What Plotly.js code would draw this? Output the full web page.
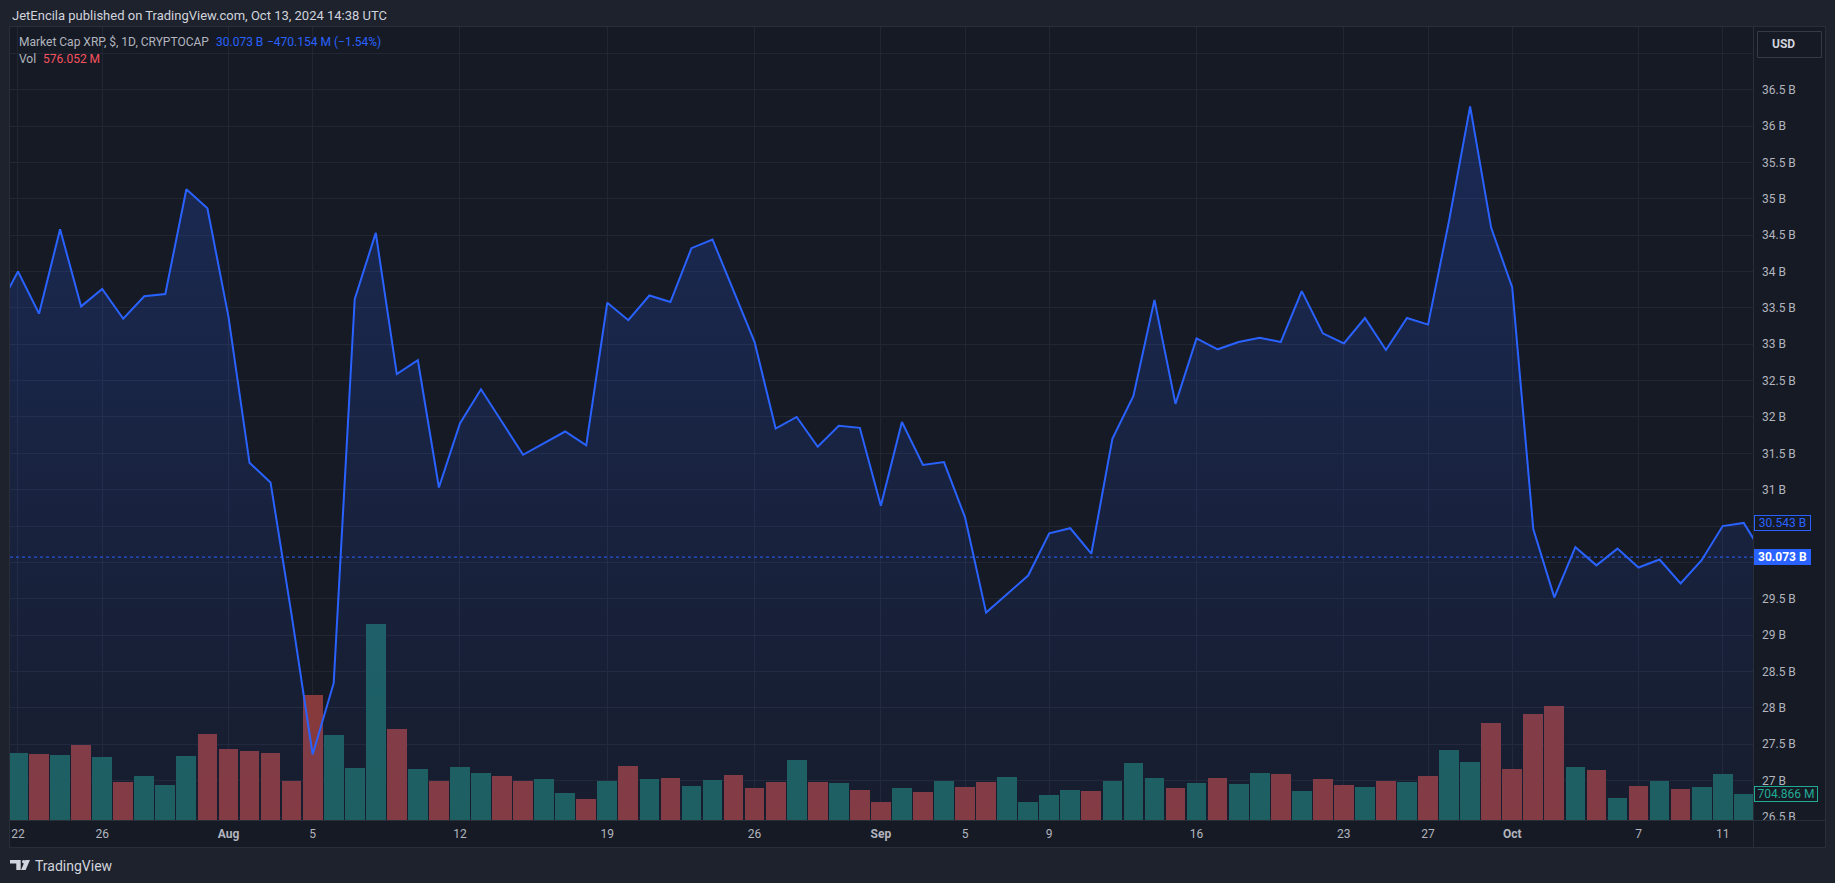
<!DOCTYPE html>
<html><head><meta charset="utf-8">
<script src="https://cdn.plot.ly/plotly-3.0.1.min.js"></script>
<style>html,body{margin:0;padding:0;background:#1e222d;}#chart{width:1835px;height:883px;}</style>
</head><body><div id="chart"></div>
<script>
// ---- data ----
const dates = [
 '2024-07-21','2024-07-22','2024-07-23','2024-07-24','2024-07-25','2024-07-26','2024-07-27','2024-07-28','2024-07-29','2024-07-30','2024-07-31',
 '2024-08-01','2024-08-02','2024-08-03','2024-08-04','2024-08-05','2024-08-06','2024-08-07','2024-08-08','2024-08-09','2024-08-10',
 '2024-08-11','2024-08-12','2024-08-13','2024-08-14','2024-08-15','2024-08-16','2024-08-17','2024-08-18','2024-08-19','2024-08-20',
 '2024-08-21','2024-08-22','2024-08-23','2024-08-24','2024-08-25','2024-08-26','2024-08-27','2024-08-28','2024-08-29','2024-08-30','2024-08-31',
 '2024-09-01','2024-09-02','2024-09-03','2024-09-04','2024-09-05','2024-09-06','2024-09-07','2024-09-08','2024-09-09','2024-09-10',
 '2024-09-11','2024-09-12','2024-09-13','2024-09-14','2024-09-15','2024-09-16','2024-09-17','2024-09-18','2024-09-19','2024-09-20',
 '2024-09-21','2024-09-22','2024-09-23','2024-09-24','2024-09-25','2024-09-26','2024-09-27','2024-09-28','2024-09-29','2024-09-30',
 '2024-10-01','2024-10-02','2024-10-03','2024-10-04','2024-10-05','2024-10-06','2024-10-07','2024-10-08','2024-10-09','2024-10-10',
 '2024-10-11','2024-10-12','2024-10-13'];

// market cap, billions USD
const marketCapB = [
 33.45,34.00,33.42,34.58,33.52,33.76,33.35,33.66,33.69,35.13,34.87,
 33.38,31.37,31.10,29.28,27.36,28.34,33.62,34.53,32.59,32.78,
 31.03,31.91,32.38,31.93,31.48,31.64,31.80,31.61,33.57,33.33,
 33.67,33.58,34.32,34.44,33.73,33.03,31.84,32.00,31.59,31.88,31.85,
 30.78,31.93,31.34,31.38,30.62,29.31,29.56,29.82,30.40,30.47,
 30.12,31.70,32.29,33.61,32.18,33.08,32.93,33.03,33.09,33.03,
 33.73,33.15,33.01,33.36,32.92,33.36,33.27,34.70,36.27,34.60,
 33.78,30.46,29.52,30.21,29.96,30.19,29.93,30.04,29.71,30.03,
 30.50,30.543,30.073];

// volume, millions USD
const volumeM = [
 null,1814,1782,1760,2020,1705,1032,1184,945,1728,2336,
 1912,1858,1814,1053,3400,2303,1412,5320,2466,1391,
 1070,1437,1275,1193,1058,1112,732,570,1058,1464,
 1112,1139,922,1085,1220,868,1031,1627,1031,1003,814,
 488,868,759,1058,895,1031,1166,488,678,814,
 786,1058,1546,1139,868,1003,1139,976,1275,1248,
 786,1112,949,895,1058,1031,1193,1898,1573,2631,
 1383,2875,3092,1437,1356,597,922,1058,841,895,
 1248,704.866,576.052];

const dateTickVals = ['2024-07-22','2024-07-26','2024-08-01','2024-08-05','2024-08-12','2024-08-19','2024-08-26','2024-09-01','2024-09-05','2024-09-09','2024-09-16','2024-09-23','2024-09-27','2024-10-01','2024-10-07','2024-10-11'];
const dateTickText = ['22','26','<b>Aug</b>','5','12','19','26','<b>Sep</b>','5','9','16','23','27','<b>Oct</b>','7','11'];

// labels at 30 B and 30.5 B sit under the price markers, as in the original
const priceTickVals = [26.5,27,27.5,28,28.5,29,29.5,30,30.5,31,31.5,32,32.5,33,33.5,34,34.5,35,35.5,36,36.5,37];
const priceTickText = ['26.5 B','27 B','27.5 B','28 B','28.5 B','29 B','29.5 B','','','31 B','31.5 B','32 B','32.5 B','33 B','33.5 B','34 B','34.5 B','35 B','35.5 B','36 B','36.5 B',''];

const lastPrice = 30.073, prevPrice = 30.543, lastVisibleVol = 704.866;

// ---- styling / layout helpers ----
const UP = '#1d5f5b', DOWN = '#873a3c';
const volColors = volumeM.map((v,i)=> i===0 ? UP : (marketCapB[i] >= marketCapB[i-1] ? UP : DOWN));

const PL=10, PR=1753, PT=27, PB=820;
const px = v => (v-PL)/(PR-PL);
const py = v => (PB-v)/(PB-PT);
const FONT = 'Roboto, "Liberation Sans", sans-serif';
const PANEL = '#161a25', BORDER = '#2a2e39', GRID = '#222633';

const traces = [
 {type:'bar', x:dates, y:volumeM, yaxis:'y', marker:{color:volColors, line:{width:0}}, width:81e6, hoverinfo:'skip'},
 {type:'scatter', mode:'lines', x:dates, y:marketCapB, yaxis:'y2',
  line:{color:'#2962ff', width:2},
  fill:'tozeroy',
  fillgradient:{type:'vertical', start:26.46, stop:36.3,
    colorscale:[[0,'rgba(41,98,255,0.04)'],[1,'rgba(41,98,255,0.22)']]},
  hoverinfo:'skip'}
];

const ann = (x,y,text,opts) => Object.assign({xref:'paper',yref:'paper',x:px(x),y:py(y),text:text,showarrow:false,xanchor:'left',yanchor:'middle',font:{family:FONT,size:12,color:'#b2b5be'}},opts||{});

const annotations = [
 ann(9.5,15,'JetEncila published on TradingView.com, Oct 13, 2024 14:38 UTC',{font:{family:FONT,size:13,color:'#d1d4dc'}}),
 ann(17,42,'Market Cap XRP, $, 1D, CRYPTOCAP',{font:{family:FONT,size:12,color:'#b2b5be'}}),
 ann(214,42,'30.073 B',{font:{family:FONT,size:12,color:'#2962ff'}}),
 ann(265,42,'\u2212470.154 M (\u22121.54%)',{font:{family:FONT,size:12,color:'#2962ff'}}),
 ann(17,59,'Vol',{font:{family:FONT,size:12,color:'#b2b5be'}}),
 ann(41,59,'576.052 M',{font:{family:FONT,size:12,color:'#f7525f'}}),
 ann(1770,44,'<b>USD</b>',{font:{family:FONT,size:12,color:'#d1d4dc'}}),
 ann(33,866,'TradingView',{font:{family:FONT,size:14,color:'#d1d4dc'}}),
 {xref:'paper',yref:'y2',x:1,y:prevPrice,xanchor:'left',yanchor:'middle',xshift:1,showarrow:false,
  text:prevPrice.toFixed(3)+' B',font:{family:FONT,size:12,color:'#2962ff'},
  bgcolor:PANEL,bordercolor:'#2962ff',borderwidth:1,borderpad:0,width:55},
 {xref:'paper',yref:'y2',x:1,y:lastPrice,xanchor:'left',yanchor:'middle',xshift:1,showarrow:false,
  text:'<b>'+lastPrice.toFixed(3)+' B</b>',font:{family:FONT,size:12,color:'#ffffff'},
  bgcolor:'#2962ff',bordercolor:'#2962ff',borderwidth:1,borderpad:0,width:55},
 {xref:'paper',yref:'y',x:1,y:lastVisibleVol,xanchor:'left',yanchor:'middle',xshift:1,showarrow:false,
  text:lastVisibleVol.toFixed(3)+' M',font:{family:FONT,size:12,color:'#22ab94'},
  bgcolor:PANEL,bordercolor:'#22ab94',borderwidth:1,borderpad:0,width:62}
];

const rectP = (x0,y0,x1,y1,o) => Object.assign({type:'rect',xref:'paper',yref:'paper',x0:px(x0),x1:px(x1),y0:py(y0),y1:py(y1)},o);
const lineP = (x0,y0,x1,y1,o) => Object.assign({type:'line',xref:'paper',yref:'paper',x0:px(x0),x1:px(x1),y0:py(y0),y1:py(y1)},o);
const pathP = (pts,o) => Object.assign({type:'path',xref:'paper',yref:'paper',path:'M'+pts.map(p=>px(p[0])+','+py(p[1])).join(' L')+' Z'},o);

const shapes = [
 rectP(9.5,26.5,1825.5,847.5,{layer:'below',fillcolor:PANEL,line:{color:BORDER,width:1}}),
 rectP(1753,820,1825,847,{layer:'above',fillcolor:PANEL,line:{width:0}}),
 lineP(9.5,820.5,1825.5,820.5,{layer:'above',line:{color:BORDER,width:1}}),
 lineP(1753.5,26.5,1753.5,847.5,{layer:'above',line:{color:BORDER,width:1}}),
 {type:'line',xref:'paper',yref:'y2',x0:0,x1:1,y0:lastPrice,y1:lastPrice,layer:'above',line:{color:'#2962ff',width:1,dash:'dot'}},
 rectP(1757.5,31.5,1821.5,57.5,{layer:'above',fillcolor:'#161a25',line:{color:'#363a45',width:1}}),
 // TradingView logo
 pathP([[10,860],[20.7,860],[20.7,870],[16.3,870],[16.3,863.6],[10,863.6]],{fillcolor:'#d1d4dc',line:{width:0}}),
 {type:'circle',xref:'paper',yref:'paper',x0:px(22),x1:px(25.4),y0:py(860),y1:py(863.4),fillcolor:'#d1d4dc',line:{width:0}},
 pathP([[25.4,860],[30,860],[25.6,870],[21,870]],{fillcolor:'#d1d4dc',line:{width:0}})
];

const layout = {
 width:1835, height:883,
 margin:{l:PL,r:1835-PR,t:PT,b:883-PB,pad:0,autoexpand:false},
 paper_bgcolor:'#1e222d', plot_bgcolor:PANEL,
 showlegend:false, hovermode:false, bargap:0,
 xaxis:{type:'date', range:['2024-07-21 14:53','2024-10-12 10:34'], tickmode:'array', tickvals:dateTickVals, ticktext:dateTickText,
   showgrid:true, gridcolor:GRID, gridwidth:1, ticks:'', zeroline:false, showline:false, fixedrange:true,
   tickfont:{family:FONT,size:12,color:'#b2b5be'}, ticklabelstandoff:5},
 yaxis:{range:[0,21498], visible:false, showgrid:false, zeroline:false, fixedrange:true},
 yaxis2:{overlaying:'y', side:'right', range:[26.459,37.361], tickmode:'array', tickvals:priceTickVals, ticktext:priceTickText,
   showgrid:true, gridcolor:GRID, gridwidth:1, ticks:'', zeroline:false, showline:false, fixedrange:true,
   tickfont:{family:FONT,size:12,color:'#b2b5be'}, ticklabelstandoff:8},
 annotations:annotations, shapes:shapes
};

Plotly.newPlot('chart', traces, layout, {staticPlot:true, displayModeBar:false});
</script></body></html>
